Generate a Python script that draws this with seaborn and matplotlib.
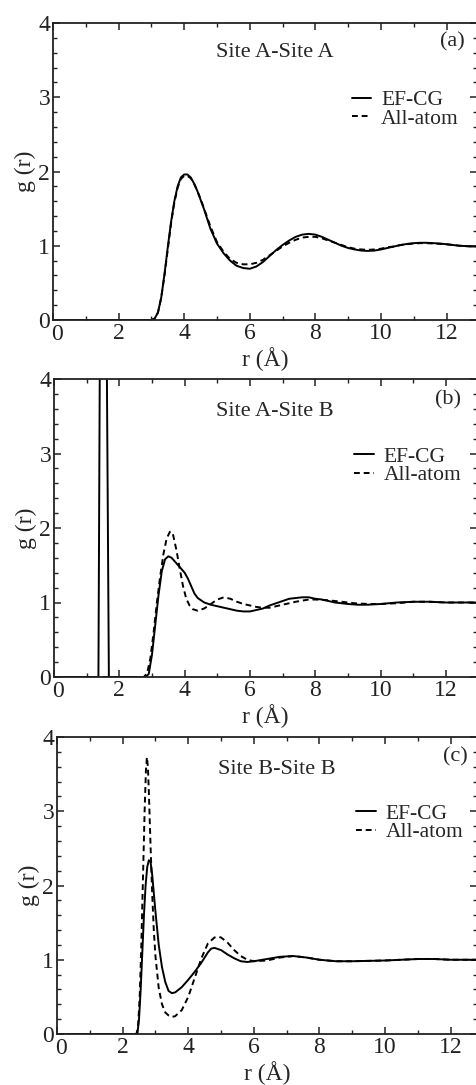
import numpy as np
import pandas as pd
import seaborn as sns
import matplotlib
matplotlib.use("Agg")
import matplotlib.pyplot as plt
from matplotlib.ticker import MultipleLocator
from matplotlib.transforms import ScaledTranslation

# ---------------- data ----------------
series_labels = ["EF-CG", "All-atom"]
panel_titles = ["Site A-Site A", "Site A-Site B", "Site B-Site B"]
panel_tags = ["(a)", "(b)", "(c)"]
x_label = "r (Å)"
y_label = "g (r)"

# Panel (a)
r_a = [0, 3.0, 3.1, 3.2, 3.3, 3.4, 3.5, 3.6, 3.7, 3.8, 3.9, 4.0, 4.1, 4.2, 4.3, 4.4,
       4.5, 4.6, 4.8, 5.0, 5.2, 5.4, 5.6, 5.8, 6.0, 6.2, 6.4, 6.6, 6.8, 7.0, 7.2, 7.4,
       7.6, 7.8, 8.0, 8.2, 8.4, 8.6, 8.8, 9.0, 9.2, 9.4, 9.6, 9.8, 10.0, 10.2, 10.4,
       10.6, 10.8, 11.0, 11.2, 11.4, 11.6, 11.8, 12.0, 12.2, 12.4, 12.6, 12.8, 13.0]
g_a_cg = [0, 0, 0.02, 0.1, 0.3, 0.62, 0.98, 1.32, 1.6, 1.8, 1.92, 1.96, 1.96, 1.92,
          1.84, 1.74, 1.62, 1.5, 1.23, 1.03, 0.9, 0.8, 0.73, 0.7, 0.69, 0.72, 0.78,
          0.86, 0.94, 1.01, 1.07, 1.12, 1.15, 1.16, 1.15, 1.12, 1.08, 1.04, 1.0, 0.97,
          0.95, 0.935, 0.93, 0.935, 0.95, 0.97, 0.99, 1.01, 1.025, 1.035, 1.04, 1.04,
          1.035, 1.03, 1.02, 1.01, 1.0, 0.995, 0.99, 0.99]
g_a_aa = [0, 0, 0.02, 0.1, 0.3, 0.6, 0.95, 1.3, 1.58, 1.78, 1.9, 1.94, 1.94, 1.91,
          1.84, 1.74, 1.63, 1.51, 1.26, 1.05, 0.92, 0.82, 0.77, 0.75, 0.75, 0.77,
          0.81, 0.87, 0.93, 0.99, 1.04, 1.08, 1.11, 1.12, 1.12, 1.1, 1.07, 1.04, 1.01,
          0.98, 0.96, 0.95, 0.945, 0.95, 0.96, 0.98, 0.99, 1.01, 1.02, 1.03, 1.035,
          1.035, 1.03, 1.025, 1.02, 1.01, 1.0, 0.995, 0.99, 0.99]

# Panel (b)
r_b_cg = [0, 1.36, 1.42, 1.47, 1.53, 1.59, 1.68, 2.8, 2.9, 3.0, 3.1, 3.2, 3.3, 3.4,
          3.5, 3.6, 3.7, 3.8, 3.9, 4.0, 4.1, 4.2, 4.3, 4.4, 4.5, 4.6, 4.8, 5.0, 5.2,
          5.4, 5.6, 5.8, 6.0, 6.2, 6.4, 6.6, 6.8, 7.0, 7.2, 7.4, 7.6, 7.8, 8.0, 8.2,
          8.4, 8.6, 8.8, 9.0, 9.3, 9.6, 10.0, 10.5, 11.0, 11.5, 12.0, 12.5, 13.0]
g_b_cg = [0, 0, 6, 12, 12, 6, 0, 0, 0.04, 0.3, 0.7, 1.1, 1.42, 1.58, 1.62, 1.6, 1.55,
          1.5, 1.45, 1.4, 1.32, 1.22, 1.12, 1.06, 1.03, 1.0, 0.97, 0.95, 0.93, 0.91,
          0.89, 0.88, 0.88, 0.9, 0.92, 0.96, 0.99, 1.02, 1.05, 1.06, 1.07, 1.07, 1.05,
          1.04, 1.02, 1.0, 0.99, 0.98, 0.97, 0.97, 0.98, 1.0, 1.01, 1.01, 1.0, 1.0, 1.0]
r_b_aa = [0, 2.75, 2.85, 2.95, 3.05, 3.15, 3.25, 3.35, 3.45, 3.55, 3.6, 3.65, 3.75,
          3.85, 3.95, 4.05, 4.15, 4.25, 4.4, 4.6, 4.8, 5.0, 5.2, 5.4, 5.6, 5.8, 6.0,
          6.2, 6.4, 6.6, 6.8, 7.0, 7.4, 7.8, 8.0, 8.4, 8.8, 9.2, 9.6, 10.0, 10.5,
          11.0, 11.5, 12.0, 12.5, 13.0]
g_b_aa = [0, 0, 0.05, 0.25, 0.6, 1.0, 1.35, 1.65, 1.86, 1.95, 1.95, 1.9, 1.7, 1.45,
          1.22, 1.05, 0.96, 0.91, 0.89, 0.92, 0.98, 1.04, 1.07, 1.05, 1.01, 0.98,
          0.96, 0.94, 0.93, 0.93, 0.95, 0.97, 1.01, 1.04, 1.04, 1.03, 1.01, 0.99,
          0.98, 0.98, 0.99, 1.01, 1.01, 1.0, 1.0, 1.0]

# Panel (c)
r_c_cg = [0, 2.45, 2.5, 2.55, 2.6, 2.65, 2.7, 2.75, 2.8, 2.85, 2.9, 2.95, 3.0, 3.1,
          3.2, 3.3, 3.4, 3.5, 3.6, 3.8, 4.0, 4.2, 4.4, 4.5, 4.6, 4.7, 4.8, 5.0, 5.2,
          5.4, 5.6, 5.8, 6.0, 6.4, 6.8, 7.2, 7.6, 8.0, 8.5, 9.0, 9.5, 10.0, 10.5,
          11.0, 11.5, 12.0, 12.5, 13.0]
g_c_cg = [0, 0, 0.2, 0.6, 1.1, 1.6, 2.0, 2.25, 2.34, 2.32, 2.15, 1.9, 1.65, 1.2, 0.9,
          0.7, 0.58, 0.55, 0.56, 0.63, 0.73, 0.84, 0.96, 1.03, 1.1, 1.15, 1.16, 1.13,
          1.07, 1.02, 0.98, 0.97, 0.98, 1.01, 1.04, 1.05, 1.03, 1.0, 0.98, 0.98,
          0.985, 0.99, 1.0, 1.01, 1.01, 1.0, 1.0, 1.0]
r_c_aa = [0, 2.42, 2.47, 2.52, 2.57, 2.62, 2.67, 2.71, 2.74, 2.77, 2.8, 2.85, 2.9,
          2.95, 3.0, 3.1, 3.2, 3.3, 3.4, 3.5, 3.6, 3.8, 4.0, 4.2, 4.4, 4.6, 4.8, 4.9,
          5.0, 5.2, 5.4, 5.6, 5.8, 6.0, 6.4, 6.8, 7.2, 7.6, 8.0, 8.5, 9.0, 9.5, 10.0,
          10.5, 11.0, 11.5, 12.0, 12.5, 13.0]
g_c_aa = [0, 0, 0.1, 0.5, 1.2, 2.1, 3.0, 3.55, 3.73, 3.6, 3.25, 2.55, 1.9, 1.4, 1.05,
          0.62, 0.4, 0.29, 0.25, 0.23, 0.24, 0.32, 0.5, 0.76, 1.02, 1.22, 1.3, 1.31,
          1.3, 1.23, 1.13, 1.05, 1.0, 0.98, 0.99, 1.03, 1.05, 1.03, 1.0, 0.98, 0.98,
          0.985, 0.99, 1.0, 1.01, 1.01, 1.0, 1.0, 1.0]

panels = [
    ((r_a, g_a_cg), (r_a, g_a_aa)),
    ((r_b_cg, g_b_cg), (r_b_aa, g_b_aa)),
    ((r_c_cg, g_c_cg), (r_c_aa, g_c_aa)),
]

# ---------------- style ----------------
sns.set_theme(style="ticks")
plt.rcParams["font.family"] = ["Liberation Serif", "DejaVu Serif"]

W, H = 477, 1085
fig = plt.figure(figsize=(W / 100, H / 100), dpi=100)

# axes boxes in pixels: (left, top, bottom, xmax)
boxes = [(53, 23, 320, 12.93), (54, 379, 677, 12.95), (57, 737, 1034, 12.8)]
title_pos = [(0.524, 0.899), (0.521, 0.89), (0.523, 0.892)]
tag_pos = [(0.941, 0.936), (0.932, 0.93), (0.948, 0.934)]
legend_pos = [(0.705, 0.773), (0.71, 0.773), (0.713, 0.775)]

styles = ["-", (0, (3.0, 2.0))]
FS_TICK = 17
FS_TEXT = 16
FS_LEG = 15.5

axes = []
for i, (left, top, bottom, xmax) in enumerate(boxes):
    ax = fig.add_axes([left / W, (H - bottom) / H, (W - left) / W, (bottom - top) / H])
    axes.append(ax)
    for (r, g), lab, ls in zip(panels[i], series_labels, styles):
        df = pd.DataFrame({"r": r, "g": g})
        sns.lineplot(data=df, x="r", y="g", ax=ax, color="black", lw=1.4,
                     linestyle=ls, label=lab, sort=False, estimator=None)
    ax.set_xlim(0, xmax)
    ax.set_ylim(0, 4)
    ax.xaxis.set_major_locator(MultipleLocator(2))
    ax.xaxis.set_minor_locator(MultipleLocator(1))
    ax.yaxis.set_major_locator(MultipleLocator(1))
    ax.yaxis.set_minor_locator(MultipleLocator(0.2))
    ax.tick_params(which="both", direction="in", top=True, right=True,
                   labelsize=FS_TICK, colors="#222222", pad=2.5)
    ax.tick_params(which="major", length=5, width=1.1)
    ax.tick_params(which="minor", length=2.8, width=1.0)
    ax.tick_params(axis="y", pad=2)
    for sp in ax.spines.values():
        sp.set_linewidth(1.3)
        sp.set_color("#222222")
    ax.set_xlabel(x_label, fontsize=FS_TICK, labelpad=1.5)
    ax.set_ylabel(y_label, fontsize=FS_TICK, labelpad=2)
    ax.text(*title_pos[i], panel_titles[i], transform=ax.transAxes, fontsize=FS_TEXT,
            ha="center", va="center")
    ax.text(*tag_pos[i], panel_tags[i], transform=ax.transAxes, fontsize=FS_TEXT,
            ha="center", va="center")
    ax.legend(loc="upper left", bbox_to_anchor=legend_pos[i], frameon=False,
              fontsize=FS_LEG, handlelength=0.9, handletextpad=0.45, labelspacing=-0.08,
              borderpad=0, borderaxespad=0)

# draw once so the tick objects exist, then nudge the x "0" label slightly right
fig.canvas.draw()
for ax in axes:
    for tick, loc in zip(ax.xaxis.get_major_ticks(), ax.xaxis.get_majorticklocs()):
        if abs(loc) < 1e-9:
            lbl = tick.label1
            lbl.set_transform(lbl.get_transform() +
                              ScaledTranslation(4 / 100, -1 / 100, fig.dpi_scale_trans))

fig.savefig("out.png", dpi=100)
